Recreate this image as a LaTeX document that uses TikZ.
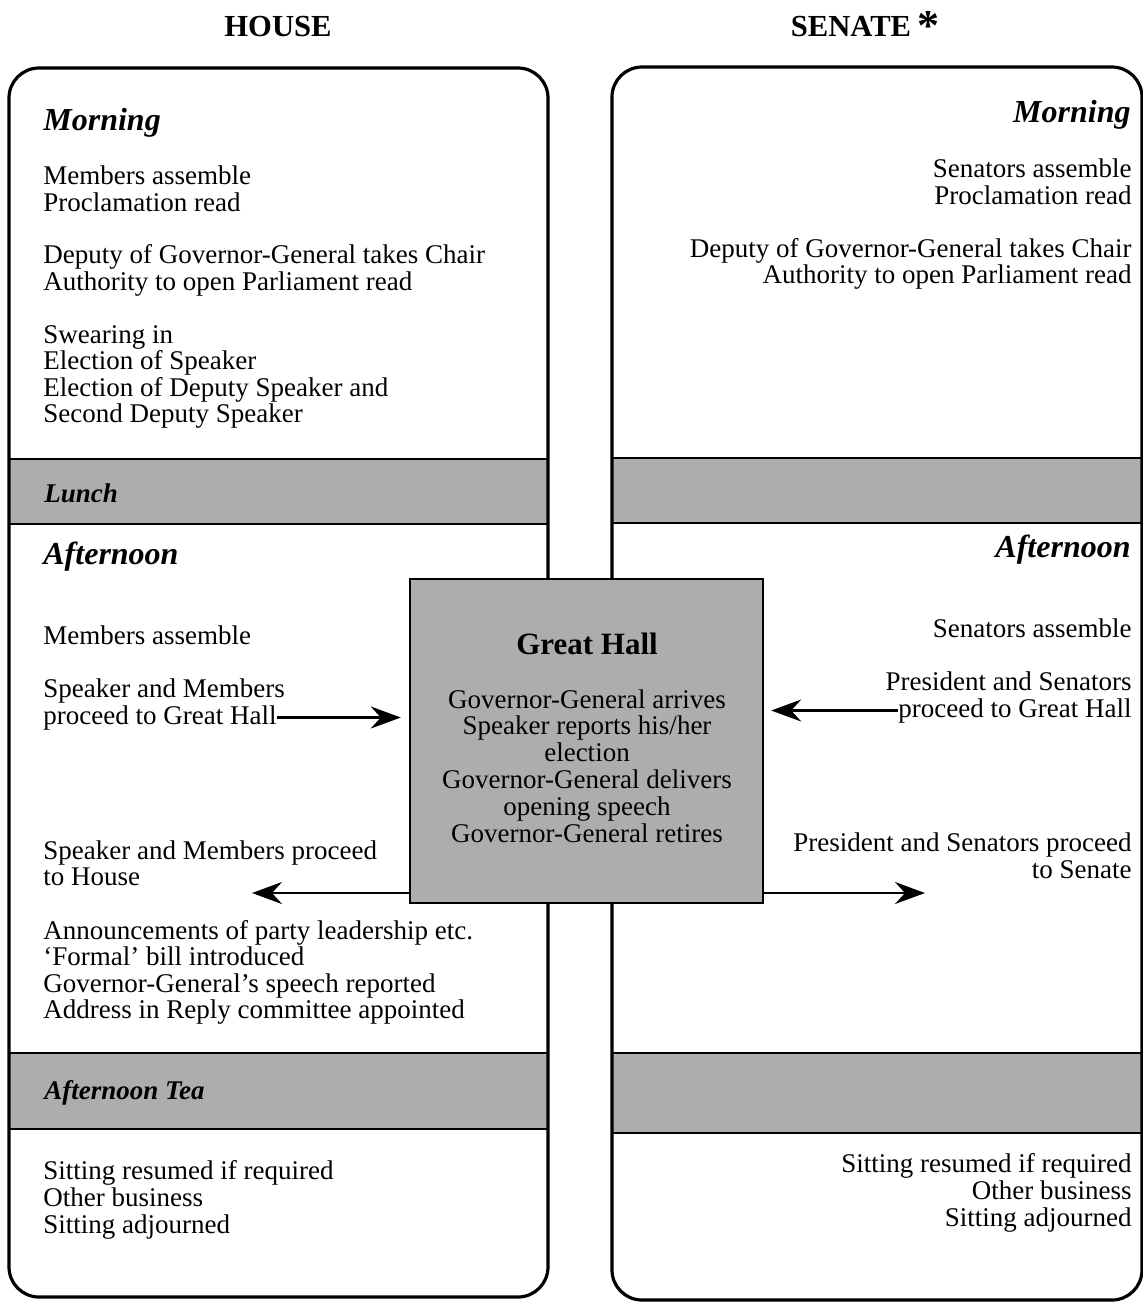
\documentclass[tikz,border=0pt]{standalone}
\usepackage{fontspec}
\setmainfont{Liberation Serif}
\usetikzlibrary{arrows.meta}
\definecolor{band}{gray}{0.68}
\begin{document}
\begin{tikzpicture}[x=0.5pt,y=-0.5pt,
 body/.style={font=\fontsize{13.5}{13.3}\selectfont, inner sep=0pt},
 L/.style={body, anchor=base west},
 R/.style={body, anchor=base east},
 C/.style={body, anchor=base},
 headL/.style={inner sep=0pt, anchor=base west, font=\fontsize{16}{16}\selectfont\bfseries\itshape},
 headR/.style={inner sep=0pt, anchor=base east, font=\fontsize{16}{16}\selectfont\bfseries\itshape},
 bandlbl/.style={inner sep=0pt, anchor=base west, font=\fontsize{13.5}{13.5}\selectfont\bfseries\itshape},
 title/.style={inner sep=0pt, anchor=base, font=\fontsize{15.3}{15.3}\selectfont\bfseries},
 chamber/.style={draw, line width=1.6pt, rounded corners=15pt},
 bandline/.style={line width=1.1pt},
 arr/.style={-{Stealth[length=15pt,width=11pt,inset=5pt]}, line width=1.1pt}]
\useasboundingbox (0,0) rectangle (1143,1303);

% titles
\node[title] (thouse) at (278,36) {HOUSE};
\node[title] (tsenate) at (865,36) {SENATE\hspace{3pt}\raisebox{-2pt}{\fontsize{22}{22}\selectfont *}};

% gray bands
\fill[band] (9,459) rectangle (548,524);
\fill[band] (9,1053) rectangle (548,1129);
\fill[band] (612,458) rectangle (1142,523);
\fill[band] (612,1053) rectangle (1142,1133);
\draw[bandline] (9,459) -- (548,459) (9,524) -- (548,524);
\draw[bandline] (9,1053) -- (548,1053) (9,1129) -- (548,1129);
\draw[bandline] (612,458) -- (1142,458) (612,523) -- (1142,523);
\draw[bandline] (612,1053) -- (1142,1053) (612,1133) -- (1142,1133);

% chambers
\draw[chamber] (9,68) rectangle (548,1297);
\draw[chamber] (612,67) rectangle (1142,1300);

% Great Hall
\node[draw, fill=band, line width=1.2pt, minimum width=176.5pt, minimum height=162pt, inner sep=0pt] (gh) at (586.5,741) {};
\node[inner sep=0pt, anchor=base, font=\fontsize{15.5}{15.5}\selectfont\bfseries] (ghtitle) at (587,654) {Great Hall};
\node[C] (g1) at (587,708) {Governor-General arrives};
\node[C] (g2) at (587,734) {Speaker reports his/her};
\node[C] (g3) at (587,761) {election};
\node[C] (g4) at (587,788) {Governor-General delivers};
\node[C] (g5) at (587,815) {opening speech};
\node[C] (g6) at (587,842) {Governor-General retires};

% House text
\node[headL] (hmorn) at (43,130) {Morning};
\node[L] (h1) at (43,184) {Members assemble};
\node[L] (h2) at (43,211) {Proclamation read};
\node[L] (h3) at (43,263) {Deputy of Governor-General takes Chair};
\node[L] (h4) at (43,290) {Authority to open Parliament read};
\node[L] (h5) at (43,343) {Swearing in};
\node[L] (h6) at (43,369) {Election of Speaker};
\node[L] (h7) at (43,396) {Election of Deputy Speaker and};
\node[L] (h8) at (43,422) {Second Deputy Speaker};
\node[bandlbl] (hlunch) at (44,502) {Lunch};
\node[headL] (haft) at (43,564) {Afternoon};
\node[L] (h9) at (43,644) {Members assemble};
\node[L] (h10) at (43,697) {Speaker and Members};
\node[L] (h11) at (43,724) {proceed to Great Hall};
\node[L] (h12) at (43,859) {Speaker and Members proceed};
\node[L] (h13) at (43,885) {to House};
\node[L] (h14) at (43,939) {Announcements of party leadership etc.};
\node[L] (h15) at (43,965) {`Formal' bill introduced};
\node[L] (h16) at (43,992) {Governor-General's speech reported};
\node[L] (h17) at (43,1018) {Address in Reply committee appointed};
\node[bandlbl] (htea) at (44,1099) {Afternoon Tea};
\node[L] (h18) at (43,1179) {Sitting resumed if required};
\node[L] (h19) at (43,1206) {Other business};
\node[L] (h20) at (43,1233) {Sitting adjourned};

% Senate text
\node[headR] (smorn) at (1131,122) {Morning};
\node[R] (s1) at (1132,177) {Senators assemble};
\node[R] (s2) at (1132,204) {Proclamation read};
\node[R] (s3) at (1132,257) {Deputy of Governor-General takes Chair};
\node[R] (s4) at (1132,283) {Authority to open Parliament read};
\node[headR] (saft) at (1131,557) {Afternoon};
\node[R] (s5) at (1132,637) {Senators assemble};
\node[R] (s6) at (1132,690) {President and Senators};
\node[R] (s7) at (1132,717) {proceed to Great Hall};
\node[R] (s8) at (1132,851) {President and Senators proceed};
\node[R] (s9) at (1132,878) {to Senate};
\node[R] (s10) at (1132,1172) {Sitting resumed if required};
\node[R] (s11) at (1132,1199) {Other business};
\node[R] (s12) at (1132,1226) {Sitting adjourned};

% arrows
\draw[arr, shorten >=4pt] (h11.east) -- (h11.east -| gh.west);
\draw[arr, shorten >=3.5pt] (s7.west) -- (s7.west -| gh.east);
\coordinate (hl) at (252,893);
\coordinate (sl) at (925,893);
\draw[arr] (gh.west |- hl) -- (hl);
\draw[arr] (gh.east |- sl) -- (sl);
\end{tikzpicture}
\end{document}
